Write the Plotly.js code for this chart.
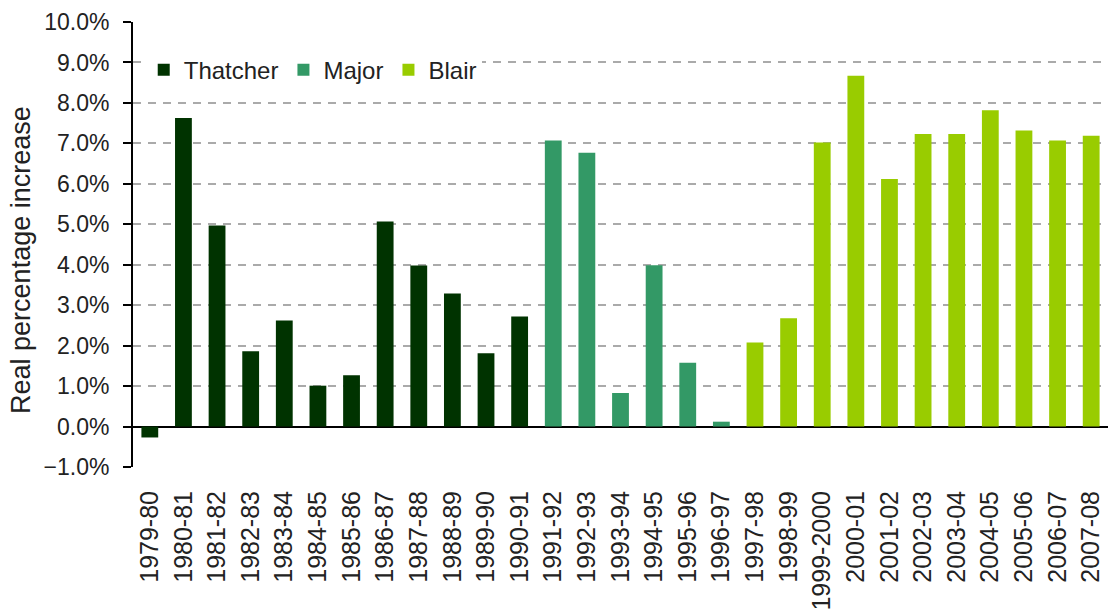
<!DOCTYPE html>
<html>
<head>
<meta charset="utf-8">
<script src="https://cdn.plot.ly/plotly-3.0.1.min.js"></script>
<style>
    html, body { margin: 0; padding: 0; background: #fff; }
    #plot { width: 1111px; height: 612px; }
</style>
</head>
<body>
<div id="plot"></div>
<script>
// 年度ラベルと実質増加率 (%)
const thatcher_years = ["1979-80", "1980-81", "1981-82", "1982-83", "1983-84", "1984-85",
    "1985-86", "1986-87", "1987-88", "1988-89", "1989-90", "1990-91"];
const thatcher_vals = [-0.27, 7.63, 4.97, 1.86, 2.62, 1.01, 1.27, 5.07, 3.98, 3.29, 1.81, 2.72];

const major_years = ["1991-92", "1992-93", "1993-94", "1994-95", "1995-96", "1996-97"];
const major_vals = [7.07, 6.77, 0.83, 3.99, 1.58, 0.12];

const blair_years = ["1997-98", "1998-99", "1999-2000", "2000-01", "2001-02", "2002-03",
    "2003-04", "2004-05", "2005-06", "2006-07", "2007-08"];
const blair_vals = [2.08, 2.68, 7.02, 8.67, 6.12, 7.23, 7.23, 7.82, 7.32, 7.07, 7.19];

const all_years = thatcher_years.concat(major_years, blair_years);

const font_family = "Liberation Sans, Arial, sans-serif";

function bar(name, x, y, color) {
    return {
        type: "bar",
        name: name,
        x: x,
        y: y,
        marker: { color: color, line: { width: 0 } },
        hoverinfo: "x+y"
    };
}

const data = [
    bar("Thatcher", thatcher_years, thatcher_vals, "#003300"),
    bar("Major", major_years, major_vals, "#339966"),
    bar("Blair", blair_years, blair_vals, "#99cc00")
];

const layout = {
    width: 1111,
    height: 612,
    margin: { l: 133, r: 3, t: 22, b: 145 },
    paper_bgcolor: "#fff",
    plot_bgcolor: "#fff",
    font: { family: font_family, size: 23, color: "#000" },
    barmode: "overlay",
    bargap: 0.5,
    showlegend: true,
    legend: {
        orientation: "h",
        x: 0.011, y: 0.892,
        xanchor: "left", yanchor: "middle",
        bgcolor: "rgba(255,255,255,1)",
        font: { size: 24, color: "#222" },
        itemwidth: 30,
        traceorder: "normal"
    },
    xaxis: {
        type: "category",
        categoryorder: "array",
        categoryarray: all_years,
        tickangle: -90,
        ticks: "",
        ticklabelstandoff: 18,
        showgrid: false,
        showline: false,
        zeroline: false,
        tickfont: { size: 25, color: "#222" }
    },
    // 0%の位置に境界の目盛りを付けた軸
    xaxis2: {
        type: "category",
        overlaying: "x",
        matches: "x",
        anchor: "free",
        position: 1 / 11,
        side: "bottom",
        categoryorder: "array",
        categoryarray: all_years,
        tickson: "boundaries",
        ticks: "outside",
        ticklen: 8,
        tickwidth: 2,
        tickcolor: "#000",
        showline: true,
        linecolor: "#000",
        linewidth: 2,
        showticklabels: false,
        showgrid: false
    },
    yaxis: {
        range: [-1, 10],
        dtick: 1,
        tick0: 0,
        tickformat: ".1f",
        ticksuffix: "%",
        ticks: "outside",
        ticklen: 8,
        tickwidth: 2,
        tickcolor: "#000",
        ticklabelstandoff: 9,
        showline: true,
        linecolor: "#000",
        linewidth: 2,
        showgrid: true,
        gridcolor: "#aaaaaa",
        gridwidth: 2,
        griddash: "8px,7px",
        zeroline: true,
        zerolinecolor: "#000",
        zerolinewidth: 2,
        tickfont: { size: 23, color: "#222" }
    },
    // 縦軸タイトル (少し下寄り)
    annotations: [{
        text: "Real percentage increase",
        xref: "paper", yref: "paper",
        x: -0.115, y: 0.465,
        xanchor: "center", yanchor: "middle",
        textangle: -90,
        showarrow: false,
        font: { size: 27, color: "#222" }
    }]
};

Plotly.newPlot("plot", data, layout, { displayModeBar: false, staticPlot: true });
</script>
</body>
</html>
